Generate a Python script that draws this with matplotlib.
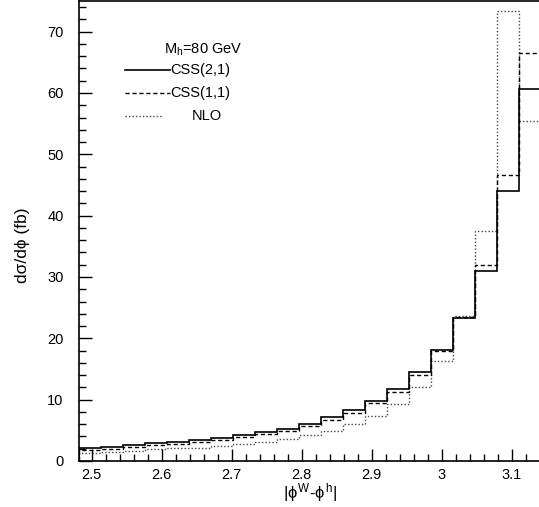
import numpy as np
import matplotlib
matplotlib.use("Agg")
import matplotlib.pyplot as plt

plt.rcParams['font.family'] = ['Liberation Sans', 'DejaVu Sans']
plt.rcParams['mathtext.fontset'] = 'custom'
plt.rcParams['mathtext.rm'] = 'Liberation Sans'
plt.rcParams['mathtext.it'] = 'Liberation Sans'

# bin edges in units of pi/100, from 0.79*pi to pi
edge_idx = np.arange(79, 101)
css21 = [2.17, 2.33, 2.6, 2.88, 3.14, 3.4, 3.8, 4.2, 4.7, 5.25, 6.08,
         7.1, 8.3, 9.8, 11.67, 14.5, 18.1, 23.3, 31.0, 44.1, 60.6]
css11 = [1.84, 2.0, 2.3, 2.6, 2.85, 3.1, 3.37, 3.86, 4.4, 4.9, 5.75,
         6.73, 7.87, 9.4, 11.2, 14.05, 18.0, 23.5, 32.0, 46.6, 66.5]
nlo = [1.25, 1.42, 1.68, 1.9, 2.06, 2.15, 2.39, 2.7, 3.1, 3.6, 4.23,
       4.94, 6.08, 7.4, 9.28, 12.0, 16.3, 23.65, 37.5, 73.3, 55.4]
labels = ['CSS(2,1)', 'CSS(1,1)', 'NLO']

edges = edge_idx * np.pi / 100

fig = plt.figure(figsize=(5.39, 5.07), dpi=100)
ax = fig.add_axes([79/539, 46/507, 462/539, 460/507])

ax.stairs(nlo, edges, color='#444444', lw=1.0, ls=(0, (1, 1.5)))
ax.stairs(css11, edges, color='black', lw=1.0, ls=(0, (3, 2)))
ax.stairs(css21, edges, color='black', lw=1.2, ls='-')

ax.set_xlim(edges[0], np.pi)
ax.set_ylim(0, 75)
ax.set_xticks([2.5, 2.6, 2.7, 2.8, 2.9, 3.0, 3.1])
ax.set_xticklabels(['2.5', '2.6', '2.7', '2.8', '2.9', '3', '3.1'])
ax.set_xticks(np.arange(2.5, 3.14, 0.02), minor=True)
ax.set_yticks(np.arange(0, 71, 10))
ax.set_yticks(np.arange(0, 75, 2), minor=True)
ax.tick_params(which='both', direction='in', top=False, right=False,
               labelsize=10.5, width=1)
ax.tick_params(which='major', length=9)
ax.tick_params(which='minor', length=5)
ax.tick_params(axis='y', pad=11)
ax.tick_params(axis='x', pad=5)
for s in ax.spines.values():
    s.set_linewidth(1.2)

ax.set_ylabel('dσ/dϕ (fb)', fontsize=12.5)
ax.yaxis.set_label_coords(-0.105, 0.47)
ax.set_xlabel(r'$|\phi^{W}$-$\phi^{h}|$', fontsize=12)
ax.xaxis.set_label_coords(0.5, -0.043)

# legend drawn as in the original
ta = ax.transAxes
ax.text(0.183, 0.893, r'M$_{\rm h}$=80 GeV', transform=ta, fontsize=10.5, va='center')
leg_y = [0.85, 0.8, 0.75]
styles = [dict(color='black', lw=1.2, ls='-'),
          dict(color='black', lw=1.0, ls=(0, (3, 2))),
          dict(color='#444444', lw=1.0, ls=(0, (1, 1.5)))]
for yy, lab, st in zip(leg_y, labels, styles):
    xe = 0.198 if lab != 'NLO' else 0.18
    ax.plot([0.1, xe], [yy, yy], transform=ta, **st)
    xt = 0.198 if lab != 'NLO' else 0.245
    ax.text(xt, yy, lab, transform=ta, fontsize=10.5, va='center')

fig.savefig('out.png', dpi=100)
